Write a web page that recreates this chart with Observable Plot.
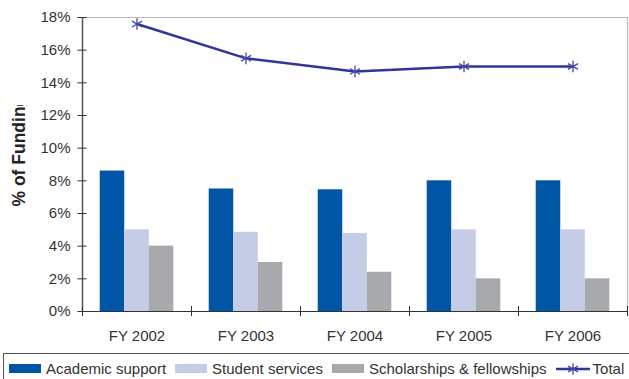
<!DOCTYPE html>
<html>
<head>
<meta charset="utf-8">
<script src="https://cdn.jsdelivr.net/npm/d3@7"></script>
<script src="https://cdn.jsdelivr.net/npm/@observablehq/plot@0.6"></script>
<style>
  html, body { margin: 0; padding: 0; background: #fff; overflow: hidden; }
  #wrap { position: relative; width: 629px; height: 379px; font-family: "Liberation Sans", Arial, sans-serif; }
  #legend { position: absolute; left: 3px; top: 353px; width: 660px; height: 40px; border: 1px solid #555; box-sizing: border-box;
            display: flex; align-items: flex-start; padding-left: 5px; padding-top: 6px; font-size: 15px; line-height: 17px; color: #333; }
  .item { display: flex; align-items: center; margin-right: 9px; white-space: nowrap; }
  .sw { width: 32px; height: 9px; margin-right: 5px; }
</style>
</head>
<body>
<div id="wrap"><div id="chart"></div><div id="legend"></div></div>
<script>
const years = ["FY 2002", "FY 2003", "FY 2004", "FY 2005", "FY 2006"];
const academicSupport = [8.6, 7.5, 7.45, 8.0, 8.0];
const studentServices = [5.0, 4.85, 4.78, 5.0, 5.0];
const scholarships = [4.0, 3.0, 2.4, 2.0, 2.0];
const total = [17.6, 15.5, 14.7, 15.0, 15.0];
const seriesNames = ["Academic support", "Student services", "Scholarships & fellowships", "Total"];
const yTicks = [0, 2, 4, 6, 8, 10, 12, 14, 16, 18];

const colors = ["#0055A4", "#C4CCE6", "#A7A9AC"];
const lineColor = "#333399";
const barSeries = [academicSupport, studentServices, scholarships];
const barW = 0.225, groupStart = 0.1625;

const barMarks = barSeries.map((vals, k) => {
  const rows = vals.map((v, i) => ({i, v, x1: i + groupStart + k * barW, x2: i + groupStart + (k + 1) * barW}));
  return Plot.rectY(rows, {x1: "x1", x2: "x2", y1: 0, y2: "v", fill: colors[k]});
});
const totalRows = total.map((v, i) => ({x: i + 0.5, v}));
const centers = years.map((d, i) => i + 0.5);
const bounds = d3.range(0, years.length + 1);

const chart = Plot.plot({
  width: 629, height: 352,
  marginLeft: 82, marginRight: 2, marginTop: 17, marginBottom: 41,
  x: {domain: [0, years.length], axis: null},
  y: {domain: [0, 18], axis: null},
  style: {fontFamily: "'Liberation Sans', Arial, sans-serif", fontSize: "15px", color: "#333", background: "#fff"},
  marks: [
    ...barMarks,
    Plot.ruleY([18], {stroke: "#b8bcc0", strokeWidth: 1.2}),
    Plot.ruleX([years.length], {stroke: "#b8bcc0", strokeWidth: 1.2}),
    Plot.ruleX([0], {stroke: "#555", strokeWidth: 1.5}),
    Plot.ruleY([0], {stroke: "#333", strokeWidth: 1.2}),
    Plot.axisY(yTicks, {tickSize: 9, dx: 4.5, tickFormat: () => "", label: null, stroke: "#333"}),
    Plot.axisY(yTicks, {tickSize: 0, tickPadding: 12, tickFormat: d => d + "%", label: null}),
    Plot.axisX(bounds, {tickSize: 10, dy: -5, tickFormat: () => "", label: null, stroke: "#333"}),
    Plot.axisX(centers, {tickSize: 0, tickPadding: 19, tickFormat: d => years[Math.floor(d)], label: null}),
    Plot.line(totalRows, {x: "x", y: "v", stroke: lineColor, strokeWidth: 2.5}),
    Plot.dot(totalRows, {x: "x", y: "v", symbol: "asterisk", r: 5.5, stroke: "#4347a6", strokeWidth: 1.3}),
    Plot.text(["% of Funding"], {frameAnchor: "left", textAnchor: "start", rotate: -90, dx: -63, dy: 42, fontWeight: "bold", fontSize: 17.5, fill: "#222", text: d => d, className: "ylabel"})
  ]
});
document.getElementById("chart").appendChild(chart);

// the reference clips the top of the axis title
const svg0 = d3.select(chart);
svg0.append("defs").append("clipPath").attr("id", "ylabclip")
  .append("rect").attr("x", 0).attr("y", 105).attr("width", 60).attr("height", 200);
const labNode = svg0.select("g.ylabel").node();
if (labNode) {
  const holder = svg0.append("g").attr("clip-path", "url(#ylabclip)");
  holder.node().appendChild(labNode);
}

const legend = document.getElementById("legend");
seriesNames.forEach((name, k) => {
  const item = document.createElement("div");
  item.className = "item";
  if (k < 3) {
    const sw = document.createElement("div");
    sw.className = "sw";
    sw.style.background = colors[k];
    item.appendChild(sw);
  } else {
    const svg = d3.create("svg").attr("width", 34).attr("height", 12).style("margin-right", "3px");
    svg.append("line").attr("x1", 0).attr("x2", 34).attr("y1", 6).attr("y2", 6).attr("stroke", lineColor).attr("stroke-width", 2.5);
    const s = d3.symbol(d3.symbolAsterisk, Math.PI * 5.5 * 5.5)();
    svg.append("path").attr("d", s).attr("transform", "translate(17,6)").attr("fill", "none").attr("stroke", "#4347a6").attr("stroke-width", 1.3);
    item.appendChild(svg.node());
  }
  const t = document.createElement("span");
  t.textContent = name;
  item.appendChild(t);
  legend.appendChild(item);
});
</script>
</body>
</html>
